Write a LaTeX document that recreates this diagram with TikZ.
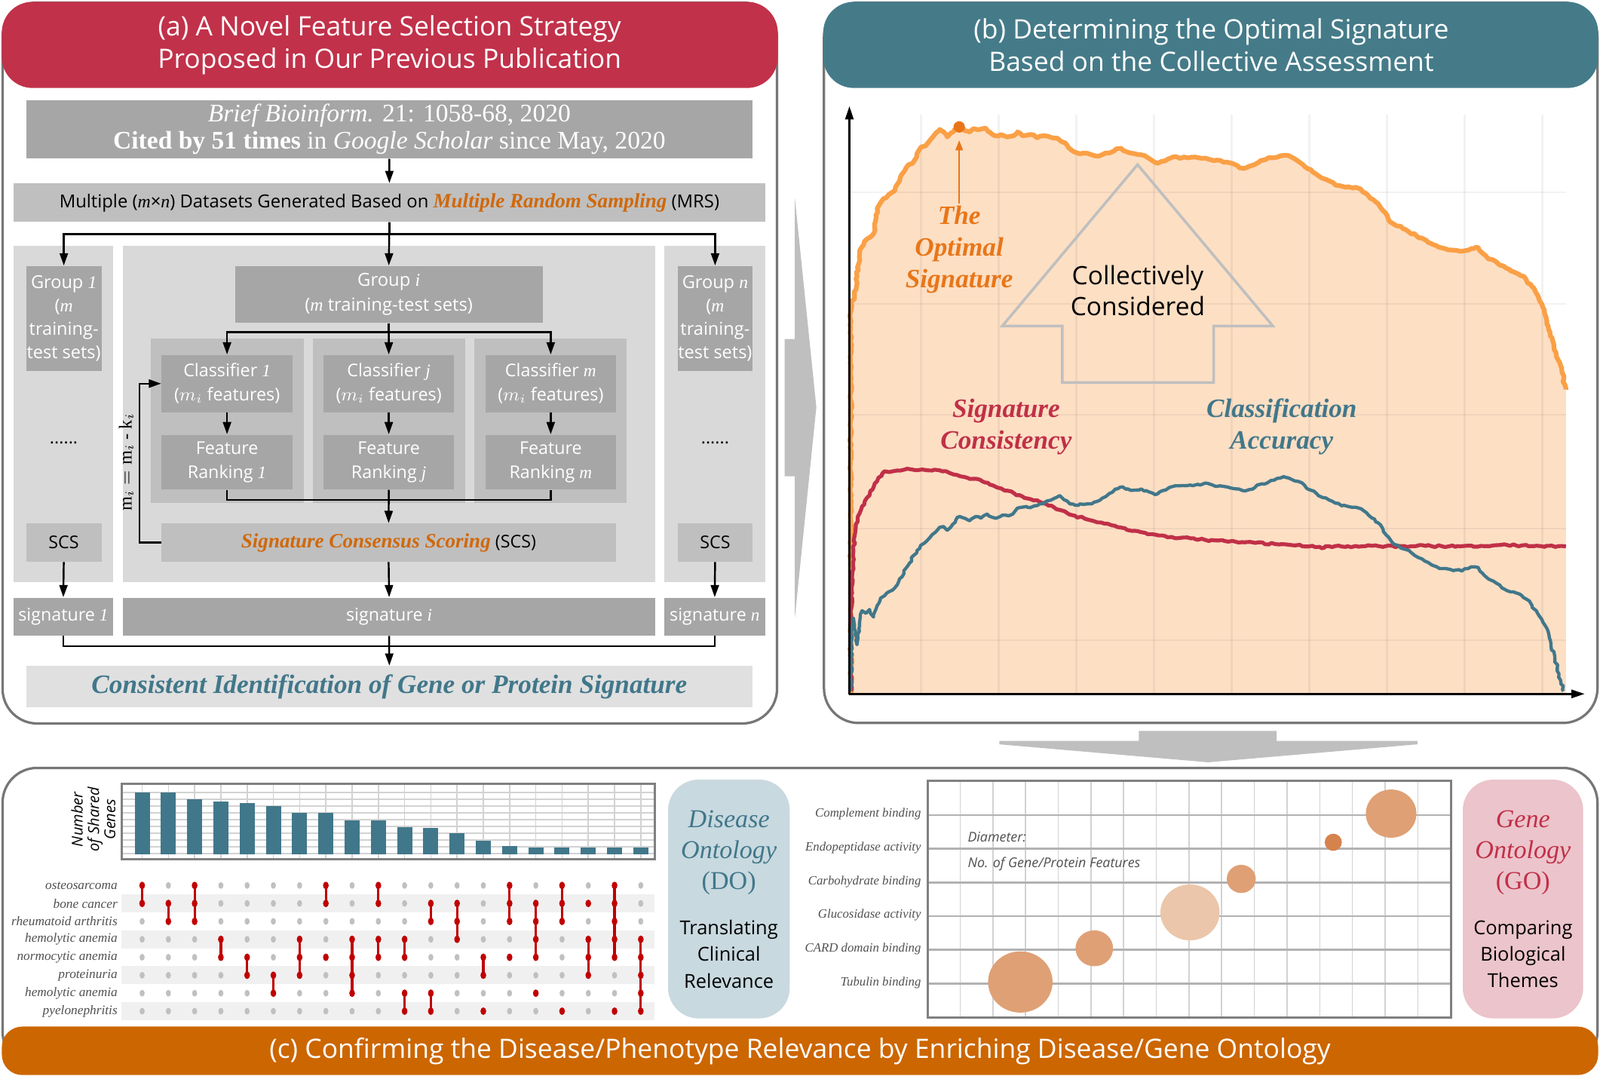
\documentclass[tikz,border=0pt]{standalone}
\usepackage{fontspec}
\setmainfont{Liberation Serif}
\newfontfamily\osans{Open Sans}
\usetikzlibrary{arrows.meta,decorations.pathmorphing}

\definecolor{hdrred}{RGB}{193,49,74}
\definecolor{hdrteal}{RGB}{69,123,137}
\definecolor{hdrorg}{RGB}{204,102,0}
\definecolor{bxdark}{RGB}{166,166,166}
\definecolor{bxmid}{RGB}{191,191,191}
\definecolor{bxlight}{RGB}{217,217,217}
\definecolor{bxpale}{RGB}{224,224,224}
\definecolor{txtorg}{RGB}{208,104,10}
\definecolor{txtteal}{RGB}{65,119,138}
\definecolor{peach}{RGB}{253,223,196}
\definecolor{curveorg}{RGB}{250,160,70}
\definecolor{optorg}{RGB}{232,118,25}
\definecolor{curvered}{RGB}{192,48,72}
\definecolor{curveteal}{RGB}{65,119,138}
\definecolor{doblue}{RGB}{200,217,223}
\definecolor{gopink}{RGB}{236,196,203}
\definecolor{bub}{RGB}{223,160,117}
\definecolor{bublight}{RGB}{235,198,170}
\definecolor{bubdark}{RGB}{214,130,76}
\definecolor{dotred}{RGB}{192,0,0}
\definecolor{dotgray}{RGB}{192,192,192}
\definecolor{bandgray}{RGB}{240,240,240}
\definecolor{panelline}{RGB}{118,118,118}
\definecolor{chartline}{RGB}{128,128,128}
\definecolor{gridgray}{RGB}{210,210,210}
\definecolor{labgray}{RGB}{80,80,80}

\newcommand\ivar[1]{{\rmfamily\itshape #1}}
\newcommand\fntbox{\osans\fontsize{8.6}{11.7}\selectfont}
\newcommand\fnttitle{\osans\fontsize{13.1}{16}\selectfont}
\newcommand\fntbi{\rmfamily\bfseries\itshape}
\newcommand\putbox[6]{\node[#1, minimum width={(#4-#2)*0.5pt}, minimum height={(#5-#3)*0.5pt}] (#6) at ({(#2+#4)/2},{(#3+#5)/2})}

\tikzset{
  panel/.style={draw=panelline, line width=1.2pt},
  arr/.style={line width=0.9pt, -{Triangle[length=6pt,width=4pt]}},
  conn/.style={line width=0.9pt},
  dbox/.style={fill=bxdark, text=white, inner sep=0pt, align=center, font=\fntbox},
  mbox/.style={fill=bxmid, text=black, inner sep=0pt, align=center, font=\fntbox},
  pbox/.style={fill=bxpale, inner sep=0pt, align=center},
  ttl/.style={text=white, align=center, font=\fnttitle},
  gdot/.style={fill=dotgray},
  rdot/.style={fill=dotred},
  rline/.style={draw=dotred, line width=1.2pt},
  rowlab/.style={anchor=east, text=labgray, inner sep=0pt, font=\rmfamily\itshape\fontsize{6.4}{7}\selectfont},
  bublab/.style={anchor=east, text=labgray, inner sep=0pt, font=\rmfamily\itshape\fontsize{6.2}{7}\selectfont},
  plotlab/.style={align=center, font=\fntbi\fontsize{13}{15.5}\selectfont},
  jitter/.style={decorate, decoration={random steps, segment length=1.6pt, amplitude=0.55pt}},
}

\begin{document}
\begin{tikzpicture}[x=0.5pt, y=-0.5pt]
\useasboundingbox (0,0) rectangle (1568,1054.4);

%% ================= PANEL (a) =================
\draw[panel, rounded corners=17pt] (2.5,2.5) rectangle (761.5,709);
\fill[hdrred, rounded corners=15pt] (1.8,1.8) rectangle (762.2,86.2);
\node[ttl] (ta) at (381.8,44) {(a) A Novel Feature Selection Strategy\\Proposed in Our Previous Publication};

% background columns
\fill[bxlight] (13.3,241) rectangle (110.8,570.2);
\fill[bxlight] (120.7,241) rectangle (642,570.2);
\fill[bxlight] (650.9,241) rectangle (749.9,570.2);
\fill[bxmid] (148,332) rectangle (297.5,492.6);
\fill[bxmid] (306.3,332) rectangle (455.8,492.6);
\fill[bxmid] (464.6,332) rectangle (614,492.6);

\putbox{dbox, font=\rmfamily\fontsize{12.4}{13}\selectfont}{25.5}{98}{737.6}{155.2}{cite}
  {\textit{Brief Bioinform.} 21: 1058-68, 2020\\\textbf{Cited by 51 times} in \textit{Google Scholar} since May, 2020};
\putbox{mbox, font=\osans\fontsize{8.8}{11}\selectfont}{13.3}{179.8}{749.9}{217.3}{mrs}
  {Multiple (\ivar{m}×\ivar{n}) Datasets Generated Based on {\fntbi\fontsize{10}{11}\selectfont\color{txtorg}Multiple Random Sampling} (MRS)};

\putbox{dbox, font=\osans\fontsize{8.7}{11.5}\selectfont}{25.6}{260.6}{99.5}{363.3}{g1}{Group \ivar{1}\\(\ivar{m}\\training-\\test sets)};
\putbox{dbox, font=\osans\fontsize{8.8}{12.3}\selectfont}{230.3}{260.6}{531.8}{316.5}{gi}{Group \ivar{i}\\(\ivar{m} training-test sets)};
\putbox{dbox, font=\osans\fontsize{8.7}{11.5}\selectfont}{664}{260.6}{737.6}{363.3}{gn}{Group \ivar{n}\\(\ivar{m}\\training-\\test sets)};

\putbox{dbox}{158.3}{347.8}{286.7}{404}{c1}{Classifier \ivar{1}\\($m_i$ features)};
\putbox{dbox}{317}{347.8}{445}{404}{cj}{Classifier \ivar{j}\\($m_i$ features)};
\putbox{dbox}{476}{347.8}{603.4}{404}{cm}{Classifier \ivar{m}\\($m_i$ features)};
\putbox{dbox}{158.3}{426}{286.7}{479.6}{f1}{Feature\\Ranking \ivar{1}};
\putbox{dbox}{317}{426}{445}{479.6}{fj}{Feature\\Ranking \ivar{j}};
\putbox{dbox}{476}{426}{603.4}{479.6}{fm}{Feature\\Ranking \ivar{m}};

\putbox{mbox}{158.3}{513}{603.4}{550.3}{scs}
  {{\fntbi\fontsize{10}{11}\selectfont\color{txtorg}Signature Consensus Scoring} (SCS)};
\putbox{mbox}{25.5}{513}{99.5}{550.3}{scsa}{SCS};
\putbox{mbox}{664}{513}{737.6}{550.3}{scsb}{SCS};

\putbox{dbox}{13.3}{585.7}{110.8}{622.7}{s1}{signature \ivar{1}};
\putbox{dbox}{120.7}{585.7}{642}{622.7}{si}{signature \ivar{i}};
\putbox{dbox}{650.9}{585.7}{749.9}{622.7}{sn}{signature \ivar{n}};

\putbox{pbox, font=\fntbi\fontsize{13}{14}\selectfont, text=txtteal}{25.5}{652.7}{737.6}{693.4}{final}
  {Consistent Identification of Gene or Protein Signature};

\node[font=\fntbox] (dl) at (62.5,434) {......};
\node[font=\fntbox] (dr) at (700.8,434) {......};
\node[rotate=90, font=\rmfamily\fontsize{9}{10}\selectfont] (fb) at (123.7,453) {$\mathrm{m}_i = \mathrm{m}_i$ - $\mathrm{k}_i$};

% connectors
\draw[arr] (cite.south) -- (mrs.north);
\draw[conn] (mrs.south) -- ++(0,11.7) coordinate (ja);
\draw[arr] (ja) -| (g1.north);
\draw[arr] (ja) -| (gn.north);
\draw[arr] (mrs.south) -- (gi.north);
\draw[conn] (gi.south) -- ++(0,8.6) coordinate (jb);
\draw[arr] (jb) -| (c1.north);
\draw[arr] (jb) -| (cm.north);
\draw[arr] (gi.south) -- (cj.north);
\draw[arr] (c1.south) -- (f1.north);
\draw[arr] (cj.south) -- (fj.north);
\draw[arr] (cm.south) -- (fm.north);
\draw[conn] (f1.south) -- ++(0,9.8) -| (fm.south);
\draw[arr] (fj.south) -- (scs.north);
\draw[arr] (scs.west) -- ++(-21.1,0) |- (c1.west);
\draw[arr] (scsa.south) -- (s1.north);
\draw[arr] (scs.south) -- (si.north);
\draw[arr] (scsb.south) -- (sn.north);
\draw[conn] (s1.south) -- ++(0,10.3) -| (sn.south);
\draw[arr] (si.south) -- (final.north);

%% ================= arrows between panels =================
\fill[bxmid] (779,194.7) -- (800,399) -- (779,604.7) -- (779,466.8) -- (769,466.8) -- (769,332.3) -- (779,332.3) -- cycle;
\fill[bxmid] (979.3,726.1) -- (979.3,729.4) -- (1184,747) -- (1389,729.4) -- (1389,726.1) -- (1251,726.1) -- (1251,716.3) -- (1116,716.3) -- (1116,726.1) -- cycle;

%% ================= PANEL (b) =================
\draw[panel, rounded corners=17pt] (807.5,2.5) rectangle (1565.5,708.5);
\fill[hdrteal, rounded corners=15pt] (806.8,1.8) rectangle (1566.2,86.2);
\node[ttl] (tb) at (1187,44) {(b) Determining the Optimal Signature\\Based on the Collective Assessment};

\begin{scope}[shift={(399.05pt,0pt)}, x=0.2455pt, y=-0.12315pt]
\fill[peach] (73,2760) -- (73,1200) -- (80,1190) -- (85,1100) -- (90,1010) -- (100,960) -- (110,945) -- (118,930) -- (122,880) -- (128,820) -- (138,790) -- (148,775) -- (160,760) -- (170,720) -- (180,680) -- (188,655) -- (196,650) -- (205,610) -- (213,585) -- (222,580) -- (232,555) -- (242,530) -- (250,515) -- (258,525) -- (265,545) -- (272,530) -- (280,515) -- (290,505) -- (300,520) -- (310,525) -- (318,512) -- (330,515) -- (342,510) -- (350,525) -- (360,540) -- (372,535) -- (385,545) -- (398,540) -- (405,525) -- (415,540) -- (430,535) -- (445,548) -- (460,540) -- (470,545) -- (485,550) -- (495,565) -- (505,580) -- (515,600) -- (530,612) -- (545,610) -- (560,620) -- (575,615) -- (590,608) -- (603,592) -- (612,590) -- (625,605) -- (640,612) -- (660,620) -- (675,640) -- (685,650) -- (700,640) -- (715,625) -- (730,630) -- (745,628) -- (760,625) -- (775,630) -- (790,635) -- (810,638) -- (830,648) -- (845,660) -- (855,670) -- (870,660) -- (885,648) -- (900,635) -- (915,628) -- (930,620) -- (942,618) -- (955,628) -- (968,645) -- (980,665) -- (995,685) -- (1010,705) -- (1030,722) -- (1045,738) -- (1060,745) -- (1075,748) -- (1090,752) -- (1100,768) -- (1110,790) -- (1125,810) -- (1135,838) -- (1145,870) -- (1155,890) -- (1170,900) -- (1185,920) -- (1200,935) -- (1215,950) -- (1230,968) -- (1245,982) -- (1260,990) -- (1275,995) -- (1290,1000) -- (1305,995) -- (1315,990) -- (1325,985) -- (1335,1010) -- (1345,1030) -- (1360,1040) -- (1375,1058) -- (1390,1078) -- (1405,1090) -- (1420,1110) -- (1432,1140) -- (1442,1170) -- (1452,1210) -- (1460,1260) -- (1468,1320) -- (1476,1380) -- (1484,1430) -- (1492,1480) -- (1500,1550) -- (1500,2760) -- cycle;
\end{scope}

% grid
\foreach \k in {0,...,8} \draw[black, opacity=0.05, line width=0.8pt] ({902.6+76.1*\k},112) -- ({902.6+76.1*\k},680);
\foreach \yy in {188.4,298,406.4,517.8,627.3} \draw[black, opacity=0.05, line width=0.8pt] (833,\yy) -- (1535,\yy);

% collectively considered arrow
\draw[draw=bxmid, line width=1.3pt] (1114.8,161.3) -- (1247.4,319.5) -- (1189.4,319.5) -- (1189.4,374.9) -- (1041.1,374.9) -- (1041.1,319.5) -- (982.2,319.5) -- cycle;
\node[align=center, font=\osans\fontsize{12.4}{15}\selectfont] (cc) at (1115,285) {Collectively\\Considered};

\begin{scope}[shift={(399.05pt,0pt)}, x=0.2455pt, y=-0.12315pt]
\draw[curveorg, line width=2.3pt, line join=round, jitter] (73,2760) -- (73,1200) -- (80,1190) -- (85,1100) -- (90,1010) -- (100,960) -- (110,945) -- (118,930) -- (122,880) -- (128,820) -- (138,790) -- (148,775) -- (160,760) -- (170,720) -- (180,680) -- (188,655) -- (196,650) -- (205,610) -- (213,585) -- (222,580) -- (232,555) -- (242,530) -- (250,515) -- (258,525) -- (265,545) -- (272,530) -- (280,515) -- (290,505) -- (300,520) -- (310,525) -- (318,512) -- (330,515) -- (342,510) -- (350,525) -- (360,540) -- (372,535) -- (385,545) -- (398,540) -- (405,525) -- (415,540) -- (430,535) -- (445,548) -- (460,540) -- (470,545) -- (485,550) -- (495,565) -- (505,580) -- (515,600) -- (530,612) -- (545,610) -- (560,620) -- (575,615) -- (590,608) -- (603,592) -- (612,590) -- (625,605) -- (640,612) -- (660,620) -- (675,640) -- (685,650) -- (700,640) -- (715,625) -- (730,630) -- (745,628) -- (760,625) -- (775,630) -- (790,635) -- (810,638) -- (830,648) -- (845,660) -- (855,670) -- (870,660) -- (885,648) -- (900,635) -- (915,628) -- (930,620) -- (942,618) -- (955,628) -- (968,645) -- (980,665) -- (995,685) -- (1010,705) -- (1030,722) -- (1045,738) -- (1060,745) -- (1075,748) -- (1090,752) -- (1100,768) -- (1110,790) -- (1125,810) -- (1135,838) -- (1145,870) -- (1155,890) -- (1170,900) -- (1185,920) -- (1200,935) -- (1215,950) -- (1230,968) -- (1245,982) -- (1260,990) -- (1275,995) -- (1290,1000) -- (1305,995) -- (1315,990) -- (1325,985) -- (1335,1010) -- (1345,1030) -- (1360,1040) -- (1375,1058) -- (1390,1078) -- (1405,1090) -- (1420,1110) -- (1432,1140) -- (1442,1170) -- (1452,1210) -- (1460,1260) -- (1468,1320) -- (1476,1380) -- (1484,1430) -- (1492,1480) -- (1500,1550);
\end{scope}

\begin{scope}[shift={(399.05pt,-166.25pt)}, x=0.2455pt, y=-0.12315pt]
\draw[curvered, line width=1.9pt, line join=round, jitter] (73,1400) -- (73,1100) -- (75,950) -- (78,840) -- (82,760) -- (88,700) -- (95,665) -- (105,630) -- (115,600) -- (125,565) -- (135,535) -- (140,525) -- (150,528) -- (165,522) -- (185,515) -- (200,520) -- (215,518) -- (235,522) -- (255,525) -- (270,532) -- (285,540) -- (300,548) -- (318,555) -- (335,565) -- (350,578) -- (365,590) -- (380,602) -- (398,612) -- (415,625) -- (430,635) -- (448,645) -- (462,655) -- (478,668) -- (492,680) -- (505,692) -- (520,702) -- (540,714) -- (560,725) -- (580,734) -- (600,742) -- (620,752) -- (640,762) -- (660,770) -- (680,777) -- (700,783) -- (730,790) -- (760,795) -- (800,800) -- (840,805) -- (880,810) -- (920,815) -- (960,820) -- (1000,827) -- (1018,829) -- (1020,823) -- (1100,823) -- (1200,823) -- (1340,823) -- (1355,820) -- (1380,817) -- (1400,820) -- (1430,823) -- (1460,822) -- (1500,824);
\draw[curveteal, line width=1.6pt, line join=round, jitter] (73,1400) -- (74,1200) -- (78,1110) -- (82,1160) -- (85,1215) -- (90,1130) -- (95,1080) -- (103,1090) -- (110,1075) -- (118,1105) -- (125,1060) -- (132,1030) -- (140,1020) -- (148,1005) -- (160,990) -- (168,965) -- (175,945) -- (183,910) -- (190,890) -- (198,860) -- (205,840) -- (212,820) -- (220,810) -- (230,790) -- (240,770) -- (250,748) -- (258,745) -- (265,760) -- (272,748) -- (282,720) -- (290,705) -- (300,712) -- (310,722) -- (322,705) -- (332,712) -- (345,695) -- (355,708) -- (365,710) -- (375,700) -- (388,702) -- (398,690) -- (405,672) -- (415,668) -- (425,668) -- (440,662) -- (450,655) -- (460,648) -- (472,640) -- (482,630) -- (490,622) -- (498,638) -- (510,655) -- (520,660) -- (530,655) -- (545,655) -- (558,648) -- (570,640) -- (582,625) -- (595,608) -- (605,595) -- (615,587) -- (625,595) -- (640,600) -- (652,595) -- (662,602) -- (675,612) -- (685,615) -- (695,602) -- (708,590) -- (720,583) -- (735,582) -- (750,580) -- (765,577) -- (780,572) -- (795,580) -- (810,583) -- (825,588) -- (840,595) -- (855,602) -- (868,598) -- (880,588) -- (893,575) -- (905,570) -- (918,560) -- (930,552) -- (942,550) -- (955,560) -- (965,565) -- (978,580) -- (990,600) -- (1003,615) -- (1015,630) -- (1028,640) -- (1040,652) -- (1052,662) -- (1065,665) -- (1080,668) -- (1092,675) -- (1102,690) -- (1112,710) -- (1125,730) -- (1135,755) -- (1145,785) -- (1152,805) -- (1165,820) -- (1178,835) -- (1192,850) -- (1205,868) -- (1218,882) -- (1230,895) -- (1242,905) -- (1255,912) -- (1268,915) -- (1280,918) -- (1292,922) -- (1305,912) -- (1318,905) -- (1325,908) -- (1333,930) -- (1342,948) -- (1355,962) -- (1368,978) -- (1378,995) -- (1390,1005) -- (1402,1010) -- (1412,1020) -- (1422,1035) -- (1432,1058) -- (1442,1085) -- (1452,1115) -- (1462,1150) -- (1470,1210) -- (1478,1270) -- (1486,1330) -- (1495,1400);
\end{scope}

% axes
\draw[line width=1pt, -{Triangle[length=6.5pt,width=4pt]}] (832.4,680.5) -- (832.4,104);
\draw[line width=1pt, -{Triangle[length=6.5pt,width=4pt]}] (831.9,680) -- (1553,680);

% optimal signature
\node[circle, fill=optorg, minimum size=5.6pt, inner sep=0pt] (optdot) at (940,124.4) {};
\node[plotlab, text=optorg, inner sep=1pt] (optlab) at (940,244.5) {The\\Optimal\\Signature};
\draw[optorg, line width=0.9pt, -{Triangle[length=5pt,width=3.6pt]}, shorten >=6.5pt] (optlab.north) -- (optdot.center);

\node[plotlab, text=curvered] (sclab) at (986,418.5) {Signature\\Consistency};
\node[plotlab, text=curveteal] (calab) at (1256,418.5) {Classification\\Accuracy};

%% ================= PANEL (c) =================
\draw[panel, rounded corners=17pt] (2.5,752.5) rectangle (1565.5,1045);
\fill[hdrorg, rounded corners=10pt] (1.8,1006) rectangle (1566.2,1053.5);
\node[ttl] (tc) at (784,1030) {(c) Confirming the Disease/Phenotype Relevance by Enriching Disease/Gene Ontology};

% upset bar chart
\fill[white] (119,768) rectangle (641.5,842);
\foreach \yy in {776.6,783.3,789.9,796.6,803.2,809.9,816.5,823.2,829.8,836.5}
  \draw[gridgray, line width=0.6pt] (119,\yy) -- (641.5,\yy);
\foreach \k in {1,...,20}
  \draw[gridgray, line width=0.6pt] ({139.3+25.72*(\k-1)},768) -- ({139.3+25.72*(\k-1)},842);
\foreach \k/\t in {1/776.6,2/776.6,3/783.5,4/785.5,5/786.9,6/790.1,7/796.8,8/796.8,9/803.7,10/803.7,11/810.3,12/811.6,13/816.5,14/823.6,15/828.8,16/830.5,17/830.5,18/830.5,19/830.5,20/830.5}
  \fill[curveteal] ({139.3+25.72*(\k-1)-7.4},\t) rectangle ({139.3+25.72*(\k-1)+7.4},836.9);
\draw[chartline, line width=1.1pt] (119,768) rectangle (641.5,842);
\node[rotate=90, align=center, font=\osans\itshape\fontsize{7.4}{8}\selectfont] (ylab) at (91.5,803) {Number\\of Shared\\Genes};

% upset matrix
\foreach \r in {2,4,6,8}
  \fill[bandgray] (119,{867.7+17.6*(\r-1)-8.8}) rectangle (641.5,{867.7+17.6*(\r-1)+8.8});
\foreach \r/\nm in {1/osteosarcoma,2/bone cancer,3/rheumatoid arthritis,4/hemolytic anemia,5/normocytic anemia,6/proteinuria,7/hemolytic anemia,8/pyelonephritis}
  \node[rowlab] (row\r) at (115.5,{867.7+17.6*(\r-1)}) {\nm};
\foreach \c in {1,...,20}
  \foreach \r in {1,...,8}
    \fill[gdot] ({139.3+25.72*(\c-1)},{867.7+17.6*(\r-1)}) ellipse [x radius=1.25pt, y radius=1.65pt];
\foreach \c/\a/\b in {1/1/2,2/2/3,3/1/3,4/4/5,5/5/6,6/6/7,7/4/6,8/1/2,8/5/5,9/4/7,10/1/2,10/4/5,11/4/5,11/7/8,12/2/3,12/7/8,13/2/4,14/5/6,14/8/8,15/1/3,15/5/5,16/2/5,16/7/7,17/1/3,17/8/8,18/2/2,18/4/6,19/1/5,19/8/8,20/4/8} {
  \draw[rline] ({139.3+25.72*(\c-1)},{867.7+17.6*(\a-1)}) -- ({139.3+25.72*(\c-1)},{867.7+17.6*(\b-1)});
  \foreach \r in {\a,...,\b}
    \fill[rdot] ({139.3+25.72*(\c-1)},{867.7+17.6*(\r-1)}) ellipse [x radius=1.4pt, y radius=1.85pt];
}

% DO box
\fill[doblue, rounded corners=15pt] (654.7,764) rectangle (773.9,998);
\node[align=center, text=txtteal, font=\rmfamily\itshape\fontsize{12.6}{15.1}\selectfont] (dot) at (714.3,835.4) {Disease\\Ontology\\{\upshape(DO)}};
\node[align=center, font=\osans\fontsize{9.4}{13}\selectfont] (dod) at (714.3,935) {Translating\\Clinical\\Relevance};

% GO box
\fill[gopink, rounded corners=15pt] (1433.5,764) rectangle (1551.5,998);
\node[align=center, text=curvered, font=\rmfamily\itshape\fontsize{12.6}{15.1}\selectfont] (got) at (1492.5,835.4) {Gene\\Ontology\\{\upshape(GO)}};
\node[align=center, font=\osans\fontsize{9.4}{13}\selectfont] (god) at (1492.5,935) {Comparing\\Biological\\Themes};

% bubble chart
\fill[white] (909,765.5) rectangle (1421.7,997.5);
\foreach \k in {0,...,14}
  \draw[gridgray, line width=0.6pt] ({940.9+32.04*\k},765.5) -- ({940.9+32.04*\k},997.5);
\foreach \yy in {798.8,831.8,865,897.8,930.8,964}
  \draw[black!30, line width=1pt] (909,\yy) -- (1421.7,\yy);
\draw[chartline, line width=1.1pt] (909,765.5) rectangle (1421.7,997.5);
\foreach \yy/\nm in {798.8/Complement binding,831.8/Endopeptidase activity,865/Carbohydrate binding,897.8/Glucosidase activity,930.8/CARD domain binding,964/Tubulin binding}
  \node[bublab] at (903,\yy-1) {\nm};
\node[anchor=west, text=labgray, inner sep=0pt, font=\osans\itshape\fontsize{6.6}{8}\selectfont] (diam) at (948,820) {Diameter:};
\node[anchor=west, text=labgray, inner sep=0pt, font=\osans\itshape\fontsize{6.6}{8}\selectfont] (nof) at (948,847) {No. of Gene/Protein Features};
\fill[bub] (999.9,962.3) ellipse [x radius=15.8pt, y radius=15pt];
\fill[bub] (1072.4,929.3) ellipse [x radius=9.2pt, y radius=8.8pt];
\fill[bublight] (1166.2,894.1) ellipse [x radius=14.5pt, y radius=13.7pt];
\fill[bub] (1216.4,861.3) ellipse [x radius=7.1pt, y radius=6.9pt];
\fill[bubdark] (1306.6,825.4) ellipse [x radius=4.2pt, y radius=4.2pt];
\fill[bub] (1363.3,797.3) ellipse [x radius=12.4pt, y radius=11.8pt];

\end{tikzpicture}
\end{document}
